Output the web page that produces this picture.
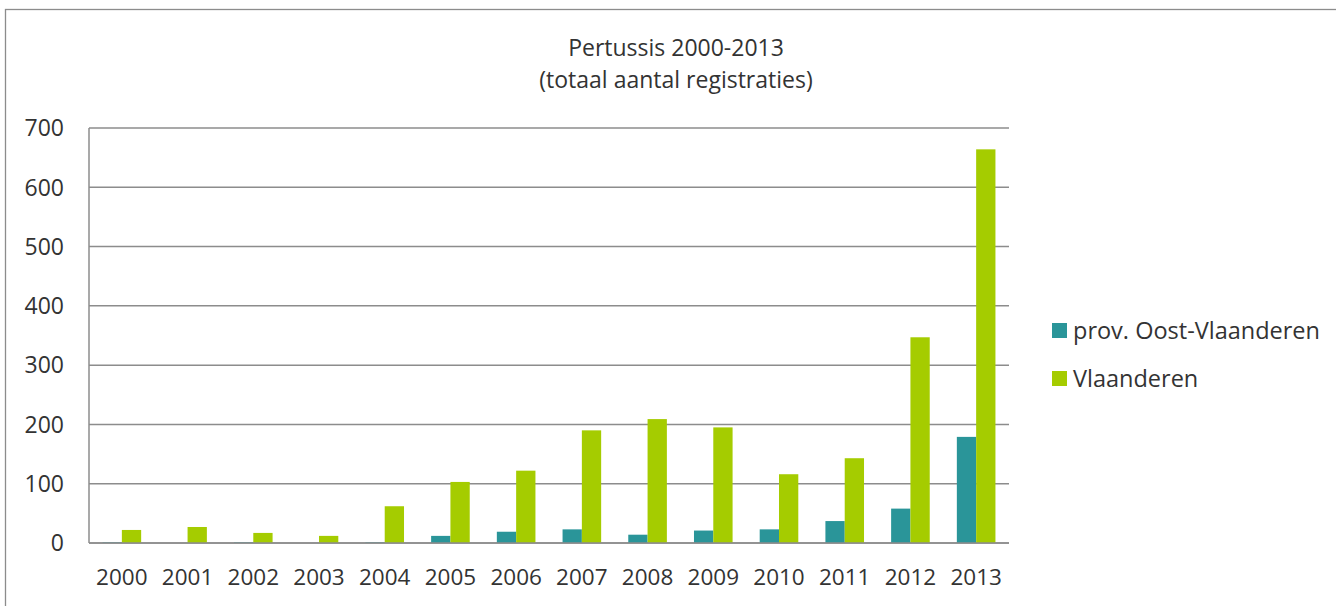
<!DOCTYPE html>
<html>
<head>
<meta charset="utf-8">
<script src="https://cdn.jsdelivr.net/npm/d3@7"></script>
<style>
  body { margin: 0; background: #fff; }
  text { font-family: "Open Sans", sans-serif; fill: #333; }
</style>
</head>
<body>
<div id="chart"></div>
<script>
const years = ["2000", "2001", "2002", "2003", "2004", "2005", "2006",
  "2007", "2008", "2009", "2010", "2011", "2012", "2013"];
const oostVlaanderen = [1, 0, 1, 0, 1, 12, 19, 23, 14, 21, 23, 37, 58, 179];
const vlaanderen = [22, 27, 17, 12, 62, 103, 122, 190, 209, 195, 116, 143, 347, 664];
const seriesNames = ["prov. Oost-Vlaanderen", "Vlaanderen"];
const seriesColors = ["#2a9599", "#a5cc00"];
const yTicks = [0, 100, 200, 300, 400, 500, 600, 700];

const width = 1336,
  height = 606;
const margin = { left: 89, right: 327, top: 128, bottom: 63 };

const svg = d3
  .select("#chart")
  .append("svg")
  .attr("width", width)
  .attr("height", height);

// outer chart border (runs off the right and bottom)
svg
  .append("rect")
  .attr("x", 5.5)
  .attr("y", 9.5)
  .attr("width", 1400)
  .attr("height", 700)
  .attr("fill", "none")
  .attr("stroke", "#8c8c8c")
  .attr("stroke-width", 1.3);

const x = d3
  .scaleBand()
  .domain(years)
  .range([margin.left, width - margin.right]);

const y = d3
  .scaleLinear()
  .domain([0, 700])
  .range([height - margin.bottom, margin.top]);

const barW = 19.3;
const x1 = d3
  .scaleBand()
  .domain(seriesNames)
  .range([x.bandwidth() / 2 - barW, x.bandwidth() / 2 + barW]);

// gridlines
svg
  .append("g")
  .selectAll("line")
  .data(yTicks)
  .join("line")
  .attr("x1", margin.left)
  .attr("x2", width - margin.right)
  .attr("y1", (d) => y(d))
  .attr("y2", (d) => y(d))
  .attr("stroke", "#8c8c8c")
  .attr("stroke-width", 1.5);

// y axis line
svg
  .append("line")
  .attr("x1", margin.left)
  .attr("x2", margin.left)
  .attr("y1", y(700))
  .attr("y2", y(0))
  .attr("stroke", "#8c8c8c")
  .attr("stroke-width", 1.5);

// y tick labels
svg
  .append("g")
  .selectAll("text")
  .data(yTicks)
  .join("text")
  .attr("x", 64)
  .attr("y", (d) => y(d))
  .attr("dy", "0.36em")
  .attr("text-anchor", "end")
  .style("font-size", "23px")
  .text((d) => d);

// x tick labels
svg
  .append("g")
  .selectAll("text")
  .data(years)
  .join("text")
  .attr("x", (d) => x(d) + x.bandwidth() / 2)
  .attr("y", 585)
  .attr("text-anchor", "middle")
  .style("font-size", "22.5px")
  .text((d) => d);

const series = [oostVlaanderen, vlaanderen];

series.forEach((values, si) => {
  svg
    .append("g")
    .selectAll("rect")
    .data(values)
    .join("rect")
    .attr("x", (d, i) => x(years[i]) + x1(seriesNames[si]))
    .attr("width", x1.bandwidth())
    .attr("y", (d) => y(d))
    .attr("height", (d) => y(0) - y(d))
    .attr("fill", seriesColors[si]);
});

// redraw baseline over bars
svg
  .append("line")
  .attr("x1", margin.left)
  .attr("x2", width - margin.right)
  .attr("y1", y(0))
  .attr("y2", y(0))
  .attr("stroke", "#8c8c8c")
  .attr("stroke-width", 1.5);

// title
const title = svg
  .append("text")
  .attr("x", 676)
  .attr("text-anchor", "middle")
  .style("font-size", "23px");
title.append("tspan").attr("x", 676).attr("y", 56).text("Pertussis 2000-2013");
title
  .append("tspan")
  .attr("x", 676)
  .attr("y", 88)
  .text("(totaal aantal registraties)");

// legend
const legend = svg
  .append("g")
  .selectAll("g")
  .data(seriesNames)
  .join("g")
  .attr("transform", (d, i) => `translate(1052, ${323 + i * 48})`);

legend
  .append("rect")
  .attr("width", 15)
  .attr("height", 15)
  .attr("fill", (d, i) => seriesColors[i]);

legend
  .append("text")
  .attr("x", 21)
  .attr("y", 16)
  .style("font-size", "23.5px")
  .text((d) => d);
</script>
</body>
</html>
